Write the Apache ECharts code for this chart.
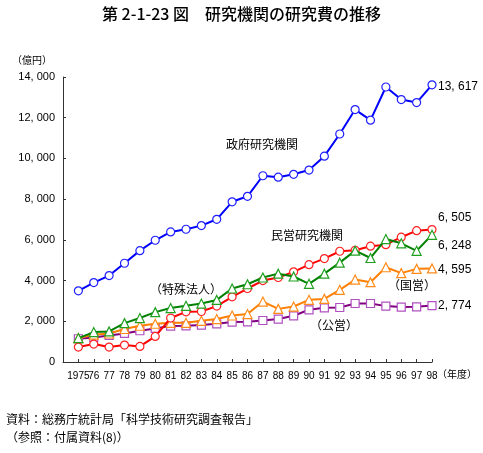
<!DOCTYPE html>
<html>
<head>
<meta charset="utf-8">
<script src="https://cdn.jsdelivr.net/npm/echarts@6/dist/echarts.min.js"></script>
<style>
html,body{margin:0;padding:0;background:#fff;}
#c{width:483px;height:453px;}
</style>
</head>
<body>
<div id="c"></div>
<script>
const years = [1975,1976,1977,1978,1979,1980,1981,1982,1983,1984,1985,1986,1987,1988,1989,1990,1991,1992,1993,1994,1995,1996,1997,1998];
const govt = [3495,3900,4245,4850,5470,5980,6390,6520,6700,7010,7870,8140,9150,9080,9220,9430,10110,11200,12400,11880,13510,12890,12745,13617];
const privateInst = [735,880,735,830,765,1255,2160,2465,2480,2745,3200,3610,4000,4150,4430,4780,5080,5440,5490,5690,5765,6130,6450,6505];
const specialCorp = [1176,1470,1500,1910,2160,2450,2650,2760,2870,3050,3610,3820,4150,4340,4200,3840,4340,4880,5470,5110,6040,5830,5460,6248];
const national = [1176,1340,1400,1620,1780,1880,1925,1925,2025,2110,2285,2355,2970,2610,2725,3055,3100,3545,4050,3920,4655,4365,4575,4595];
const publicInst = [1142,1206,1304,1402,1534,1647,1765,1779,1814,1877,1961,1975,2039,2108,2270,2564,2662,2676,2873,2873,2745,2696,2711,2774];
const yTicks = [0,2000,4000,6000,8000,10000,12000,14000];

const CJK = '"Noto Sans CJK JP", sans-serif';
const NUM = '"Liberation Sans", "Noto Sans CJK JP", sans-serif';
function fmt(v){ return String(v).replace(/\B(?=(\d{3})+(?!\d))/g, ', '); }
function pairs(arr){ return years.map((y,i)=>[y,arr[i]]); }

function mk(name, arr, color, markerColor, symbol, size, offset, z){
  return {
    name: name, type: 'line', data: pairs(arr),
    symbol: symbol, symbolSize: size,
    lineStyle: {color: color, width: 2},
    itemStyle: {color: '#fff', borderColor: markerColor, borderWidth: 1.2},
    emphasis: {disabled: true},
    endLabel: {show: true, formatter: p => fmt(p.value[1]), color: '#000',
      fontFamily: NUM, fontSize: 12, distance: 6, offset: offset},
    z: z
  };
}

const chart = echarts.init(document.getElementById('c'));
chart.setOption({
  animation: false,
  backgroundColor: '#fff',
  grid: {left: 63, right: 51, top: 77, bottom: 91},
  xAxis: {
    type: 'value', min: 1974, max: 1998, interval: 1,
    axisLine: {show: true, lineStyle: {color: '#333', width: 1}},
    axisTick: {show: true, inside: true, length: 3, lineStyle: {color: '#333'}},
    splitLine: {show: false},
    axisLabel: {
      color: '#000', fontFamily: NUM, fontSize: 10, margin: 9, showMinLabel: true,
      formatter: v => v === 1974 ? '' : (v === 1975 ? '1975' : String(v).slice(2))
    }
  },
  yAxis: {
    type: 'value', min: 0, max: 14000, interval: 2000,
    axisLine: {show: true, lineStyle: {color: '#333', width: 1}},
    axisTick: {show: true, inside: true, length: 3, lineStyle: {color: '#333'}},
    splitLine: {show: false},
    axisLabel: {color: '#000', fontFamily: NUM, fontSize: 11, margin: 8,
      formatter: v => yTicks.indexOf(v) >= 0 ? fmt(v) : ''}
  },
  series: [
    mk('公営', publicInst, '#800080', '#b050c0', 'rect', 8, [0, 0], 2),
    mk('国営', national, '#ff7f00', '#ff8c1a', 'triangle', 9, [0, 1], 3),
    mk('政府研究機関', govt, '#0000ff', '#2020ff', 'circle', 8, [0, 2], 4),
    mk('民営研究機関', privateInst, '#ff0000', '#ff2020', 'circle', 8, [0, -12], 5),
    mk('特殊法人', specialCorp, '#008000', '#20a020', 'triangle', 9, [0, 11], 6)
  ],
  graphic: [
    {type: 'text', left: 'center', top: 6, style: {text: '第 2-1-23 図　研究機関の研究費の推移', fontFamily: CJK, fontSize: 16, fontWeight: 500, fill: '#000'}},
    {type: 'text', left: 12, top: 55, style: {text: '（億円）', fontFamily: CJK, fontSize: 10, fill: '#000'}},
    {type: 'text', left: 437, top: 369, style: {text: '（年度）', fontFamily: CJK, fontSize: 10, fill: '#000'}},
    {type: 'text', left: 226, top: 138, style: {text: '政府研究機関', fontFamily: CJK, fontSize: 12, fill: '#000'}},
    {type: 'text', left: 271, top: 229, style: {text: '民営研究機関', fontFamily: CJK, fontSize: 12, fill: '#000'}},
    {type: 'text', left: 150, top: 283, style: {text: '（特殊法人）', fontFamily: CJK, fontSize: 12, fill: '#000'}},
    {type: 'text', left: 388, top: 279, style: {text: '（国営）', fontFamily: CJK, fontSize: 12, fill: '#000'}},
    {type: 'text', left: 310, top: 319, style: {text: '（公営）', fontFamily: CJK, fontSize: 12, fill: '#000'}},
    {type: 'text', left: 6, top: 413, style: {text: '資料：総務庁統計局「科学技術研究調査報告」', fontFamily: CJK, fontSize: 12, fill: '#000'}},
    {type: 'text', left: 6, top: 431, style: {text: '（参照：付属資料(8)）', fontFamily: CJK, fontSize: 12, fill: '#000'}}
  ]
});
</script>
</body>
</html>
